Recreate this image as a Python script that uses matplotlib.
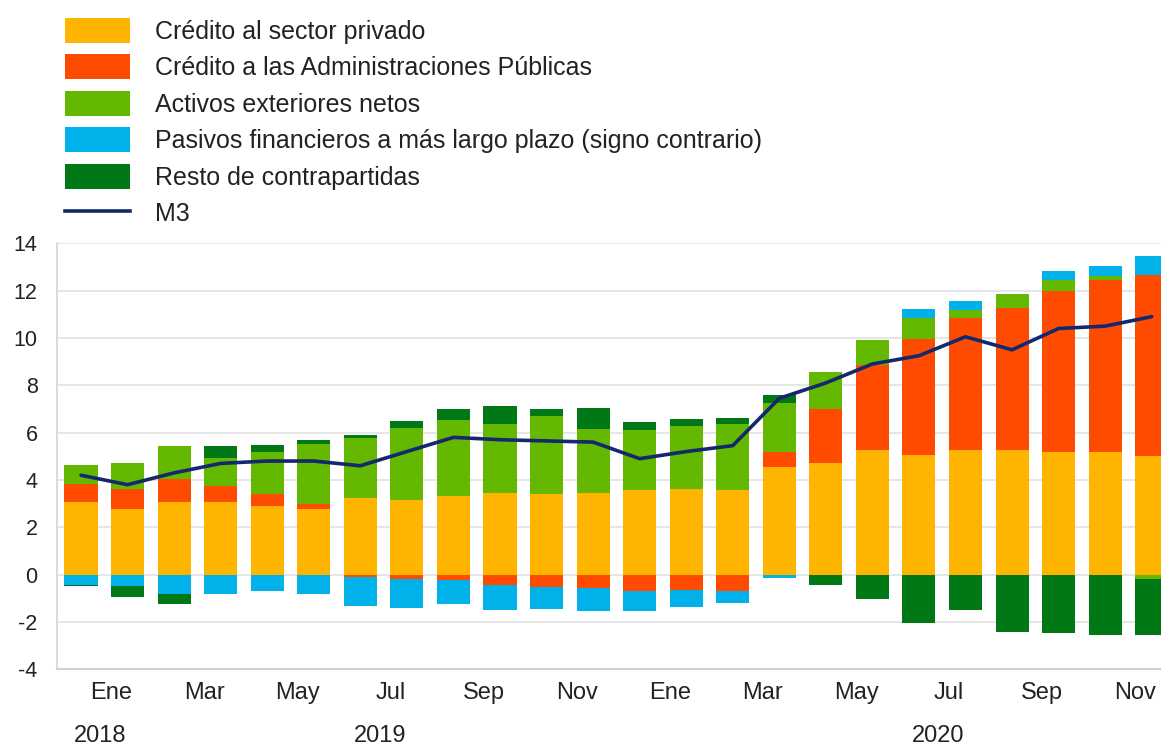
import numpy as np
import matplotlib
matplotlib.use("Agg")
import matplotlib.pyplot as plt
from matplotlib.patches import Patch
from matplotlib.lines import Line2D
import matplotlib.transforms as mtransforms

# ---- data (contributions, percentage points) Dec 2018 .. Nov 2020 ----
months = ["Dic 2018", "Ene 2019", "Feb 2019", "Mar 2019", "Abr 2019", "May 2019",
          "Jun 2019", "Jul 2019", "Ago 2019", "Sep 2019", "Oct 2019", "Nov 2019",
          "Dic 2019", "Ene 2020", "Feb 2020", "Mar 2020", "Abr 2020", "May 2020",
          "Jun 2020", "Jul 2020", "Ago 2020", "Sep 2020", "Oct 2020", "Nov 2020"]

credito_privado = [3.07, 2.76, 3.07, 3.07, 2.89, 2.76, 3.25, 3.14, 3.32, 3.45, 3.42, 3.45,
                   3.56, 3.63, 3.59, 4.55, 4.72, 5.25, 5.04, 5.28, 5.28, 5.18, 5.18, 5.01]
credito_aapp = [0.78, 0.87, 0.99, 0.66, 0.53, 0.21, -0.10, -0.20, -0.24, -0.42, -0.52, -0.56,
                -0.70, -0.63, -0.70, 0.63, 2.29, 3.60, 4.93, 5.58, 6.00, 6.79, 7.28, 7.67]
activos_exteriores = [0.80, 1.10, 1.36, 1.20, 1.76, 2.57, 2.52, 3.07, 3.23, 2.93, 3.27, 2.72,
                      2.54, 2.64, 2.79, 2.07, 1.55, 1.08, 0.89, 0.31, 0.59, 0.49, 0.16, -0.20]
pasivos_largo_plazo = [-0.45, -0.50, -0.83, -0.80, -0.70, -0.83, -1.24, -1.21, -0.99, -1.06, -0.92, -0.99,
                       -0.85, -0.74, -0.50, -0.15, 0.00, 0.00, 0.38, 0.38, 0.00, 0.36, 0.41, 0.77]
resto = [-0.05, -0.45, -0.39, 0.49, 0.28, 0.14, 0.15, 0.28, 0.44, 0.75, 0.32, 0.89,
         0.35, 0.29, 0.25, 0.35, -0.42, -1.01, -2.04, -1.51, -2.44, -2.47, -2.55, -2.35]
m3 = [4.2, 3.8, 4.3, 4.7, 4.8, 4.8, 4.6, 5.2, 5.8, 5.7, 5.65, 5.6,
      4.9, 5.2, 5.45, 7.45, 8.1, 8.9, 9.25, 10.05, 9.5, 10.4, 10.5, 10.9]

series_labels = ["Crédito al sector privado",
                 "Crédito a las Administraciones Públicas",
                 "Activos exteriores netos",
                 "Pasivos financieros a más largo plazo (signo contrario)",
                 "Resto de contrapartidas"]
line_label = "M3"
month_ticks = ["Ene", "Mar", "May", "Jul", "Sep", "Nov", "Ene", "Mar", "May", "Jul", "Sep", "Nov"]
year_labels = ["2018", "2019", "2020"]
year_bar_index = [0, 6, 18]

colors = ["#FFB400", "#FF4B00", "#65B800", "#00B1EA", "#007816"]
line_color = "#14286e"

font = ["Liberation Sans", "DejaVu Sans"]
text_color = "#222222"

# ---- figure ----
W, H = 1161, 749
fig = plt.figure(figsize=(W / 100, H / 100), dpi=100)
ax_left, ax_right = 57 / W, 1.0
ax_top, ax_bottom = 1 - 243.3 / H, 1 - 669.3 / H
ax = fig.add_axes([ax_left, ax_bottom, ax_right - ax_left, ax_top - ax_bottom])

x = np.arange(len(months))
series = [credito_privado, credito_aapp, activos_exteriores, pasivos_largo_plazo, resto]
pos_base = np.zeros(len(x))
neg_base = np.zeros(len(x))
width = 0.71
for vals, col, lab in zip(series, colors, series_labels):
    v = np.array(vals, dtype=float)
    bottoms = np.where(v >= 0, pos_base, neg_base)
    ax.bar(x, v, width=width, bottom=bottoms, color=col, label=lab, linewidth=0, zorder=3)
    pos_base = pos_base + np.where(v > 0, v, 0)
    neg_base = neg_base + np.where(v < 0, v, 0)

ax.plot(x, m3, color=line_color, linewidth=2.6, zorder=5, label=line_label,
        solid_joinstyle="round", solid_capstyle="round")

ax.set_xlim(-0.516, 23.2)
ax.set_ylim(-4, 14)
ax.set_yticks(np.arange(-4, 15, 2))
ax.set_yticklabels([str(v) for v in range(-4, 15, 2)], fontfamily=font, fontsize=15.5, color=text_color)
ax.grid(axis="y", color="#e6e6e6", linewidth=1.4, zorder=0)
ax.set_axisbelow(True)
for s in ["top", "right"]:
    ax.spines[s].set_visible(False)
ax.spines["left"].set_color("#d8d8d8")
ax.spines["left"].set_linewidth(1.3)
ax.spines["bottom"].set_color("#d0d0d0")
ax.spines["bottom"].set_linewidth(1.5)
ax.tick_params(axis="both", length=0)
ax.tick_params(axis="y", pad=14)
ax.tick_params(axis="x", pad=9)

tick_pos = np.arange(0, len(x), 2) + 0.65
ax.set_xticks(tick_pos)
ax.set_xticklabels(month_ticks, fontfamily=font, fontsize=17, color=text_color)

trans = mtransforms.blended_transform_factory(ax.transData, fig.transFigure)
for yl, bi in zip(year_labels, year_bar_index):
    ax.text(bi + 0.42, 1 - 736 / H, yl, transform=trans, ha="center", va="center",
            fontfamily=font, fontsize=17, color=text_color)

# ---- legend ----
handles = [Patch(facecolor=c, edgecolor="none") for c in colors]
handles.append(Line2D([0], [0], color=line_color, linewidth=2.6))
labels = series_labels + [line_label]
fs = 18
em = fs * 100 / 72
fig.legend(handles, labels, loc="upper left", bbox_to_anchor=(65 / W, 1 - 18 / H),
           frameon=False, borderpad=0, borderaxespad=0,
           prop={"family": font, "size": fs},
           handlelength=65 / em, handleheight=29 / em, labelspacing=10.5 / em,
           handletextpad=25 / em, labelcolor=text_color)

fig.savefig("out.png", dpi=100)
